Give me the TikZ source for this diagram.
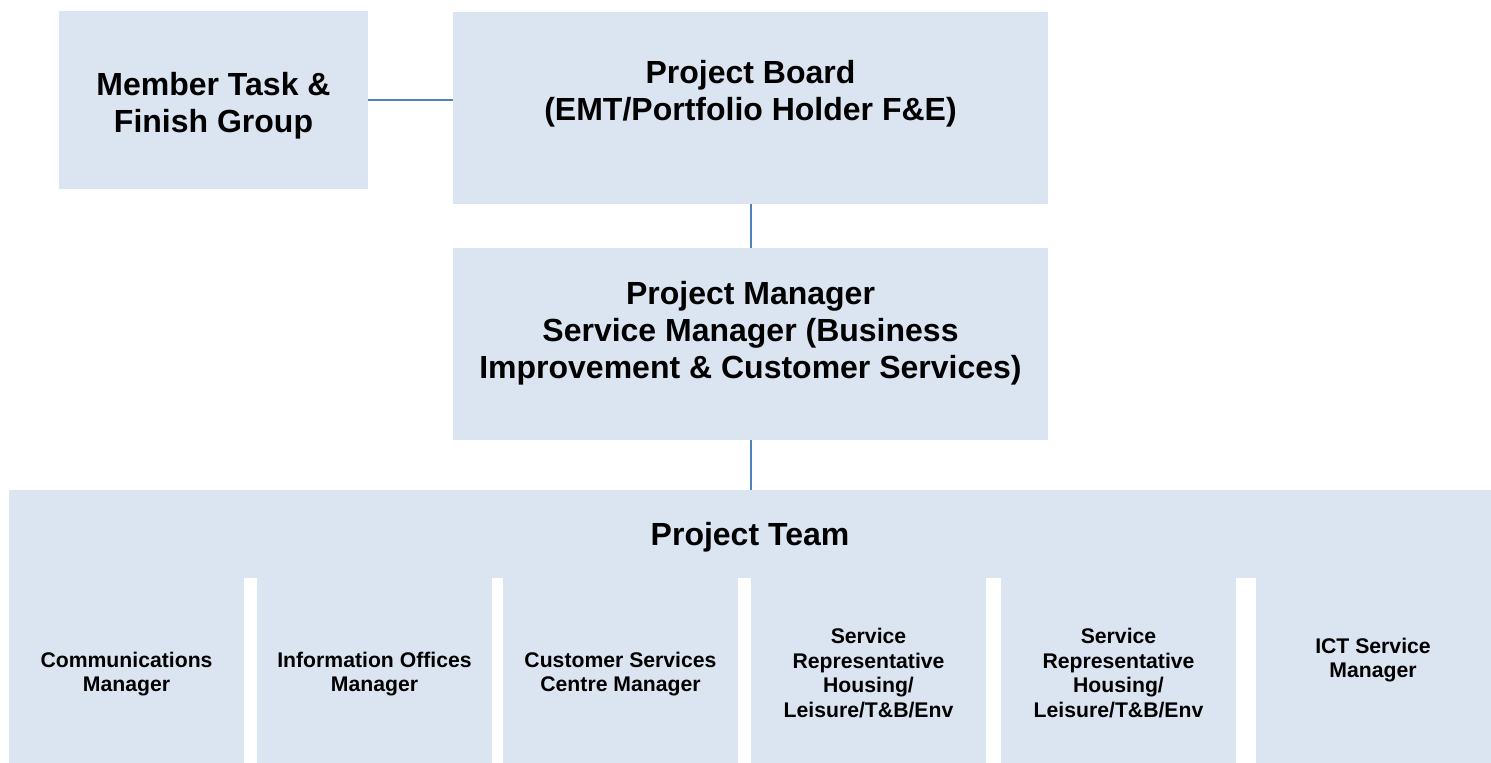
\documentclass[tikz,border=0pt]{standalone}
\usepackage{fontspec}
\setmainfont{Liberation Sans}
\usepackage{xcolor}
\definecolor{boxfill}{RGB}{219,229,241}
\definecolor{linkblue}{RGB}{79,129,189}
\def\unit{0.5pt}

\begin{document}
\begin{tikzpicture}[x=\unit, y=-\unit]
    \tikzstyle{box}=[rectangle, fill=boxfill, inner sep=0pt]
    \tikzstyle{big text}=[align=center, inner sep=0pt, font=\bfseries\fontsize{16}{18.4}\selectfont]
    \tikzstyle{small text}=[align=center, inner sep=0pt, font=\bfseries\fontsize{10.6}{12.2}\selectfont]
    \tikzstyle{member box}=[box, minimum width=235*\unit, minimum height=187*\unit]
    \tikzstyle{link}=[draw=linkblue, line width=1pt]

    \useasboundingbox (0,0) rectangle (1491,763);

    % Board level
    \node[box, minimum width=309*\unit, minimum height=178*\unit] (member) at (213.5,100) {};
    \node[big text] (member-text) at (213.5,105.5) {Member Task \&\\Finish Group};
    \node[box, minimum width=595*\unit, minimum height=192*\unit] (board) at (750.5,108) {};
    \node[big text] (board-text) at (750.5,93.5) {Project Board\\(EMT/Portfolio Holder F\&E)};

    % Manager
    \node[box, minimum width=595*\unit, minimum height=192*\unit] (manager) at (750.5,344) {};
    \node[big text] (manager-text) at (750.5,333.5) {Project Manager\\Service Manager (Business\\Improvement \& Customer Services)};

    % Team header and its members
    \node[box, minimum width=1482*\unit, minimum height=88*\unit] (team) at (750,534) {};
    \node[big text] (team-text) at (750,537) {Project Team};
    \foreach \name/\x/\ty/\txt in {comms/126.5/674/{Communications\\Manager},
                                   info/374.5/674/{Information Offices\\Manager},
                                   csc/620.5/674/{Customer Services\\Centre Manager},
                                   rep-a/868.5/673/{Service\\Representative\\Housing/\\Leisure/T\&B/Env},
                                   rep-b/1118.5/673/{Service\\Representative\\Housing/\\Leisure/T\&B/Env},
                                   ict/1373/660/{ICT Service\\Manager}}
    {
        \node[member box] (\name) at (\x,670) {};
        \node[small text] (\name-text) at (\x,\ty) {\txt};
    }

    \draw[link] (member.east) -- (member.east -| board.west);
    \draw[link] (board.south) -- (manager.north);
    \draw[link] (manager.south) -- (manager.south |- team.north);
\end{tikzpicture}
\end{document}
